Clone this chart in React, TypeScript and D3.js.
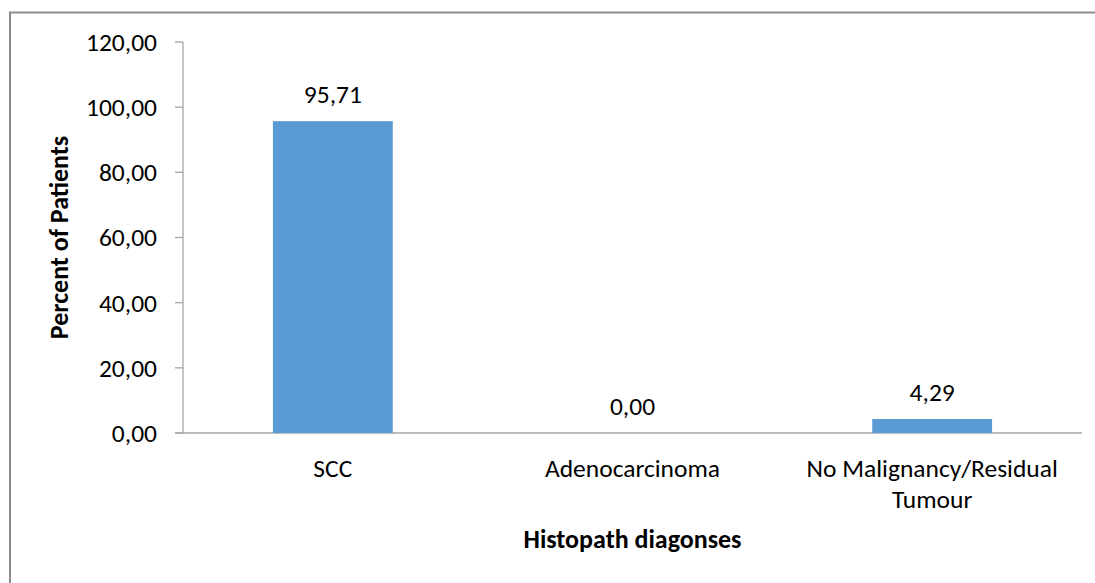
import * as d3 from "d3";
import React, { useEffect, useRef } from "react";

const categories = ["SCC", "Adenocarcinoma", "No Malignancy/Residual Tumour"];
const categoryLines = [["SCC"], ["Adenocarcinoma"], ["No Malignancy/Residual", "Tumour"]];
const percentValues = [95.71, 0.0, 4.29];
const yTicks = [0, 20, 40, 60, 80, 100, 120];
const yTitle = "Percent of Patients";
const xTitle = "Histopath diagonses";

const W = 1095;
const H = 583;
const FONT = "Carlito, Calibri, 'Open Sans', sans-serif";

const fmt = (v: number) => v.toFixed(2).replace(".", ",");

const App = () => {
  const svgRef = useRef<SVGSVGElement>(null);

  useEffect(() => {
    const svg = d3.select(svgRef.current);
    svg.selectAll("*").remove();

    const plot = { left: 183, right: 1082, top: 42, bottom: 433 };

    const x = d3
      .scaleBand()
      .domain(categories)
      .range([plot.left, plot.right])
      .paddingInner(0.6)
      .paddingOuter(0.3);

    const y = d3.scaleLinear().domain([0, 120]).range([plot.bottom, plot.top]);

    // outer chart frame (runs off the right/bottom edge)
    svg
      .append("path")
      .attr("d", `M10,${H + 5} L10,12.5 L${W + 5},12.5`)
      .attr("fill", "none")
      .attr("stroke", "#8c8c8c")
      .attr("stroke-width", 2);

    // y axis
    const yAxis = svg.append("g");
    yAxis
      .append("line")
      .attr("x1", plot.left)
      .attr("x2", plot.left)
      .attr("y1", y(120))
      .attr("y2", y(0))
      .attr("stroke", "#a6a6a6")
      .attr("stroke-width", 1.3);

    yAxis
      .selectAll("line.tick")
      .data(yTicks)
      .enter()
      .append("line")
      .attr("class", "tick")
      .attr("x1", plot.left - 8)
      .attr("x2", plot.left)
      .attr("y1", (d) => y(d))
      .attr("y2", (d) => y(d))
      .attr("stroke", "#a6a6a6")
      .attr("stroke-width", 1.3);

    yAxis
      .selectAll("text")
      .data(yTicks)
      .enter()
      .append("text")
      .attr("x", plot.left - 26)
      .attr("y", (d) => y(d))
      .attr("dy", "0.35em")
      .attr("text-anchor", "end")
      .style("font-family", FONT)
      .style("font-size", "25.5px")
      .style("fill", "#000")
      .text((d) => fmt(d));

    // x axis line
    svg
      .append("line")
      .attr("x1", plot.left - 8)
      .attr("x2", plot.right)
      .attr("y1", y(0))
      .attr("y2", y(0))
      .attr("stroke", "#a6a6a6")
      .attr("stroke-width", 1.3);

    // bars
    svg
      .selectAll("rect.bar")
      .data(percentValues)
      .enter()
      .append("rect")
      .attr("class", "bar")
      .attr("x", (_, i) => x(categories[i]) as number)
      .attr("width", x.bandwidth())
      .attr("y", (d) => y(d))
      .attr("height", (d) => y(0) - y(d))
      .attr("fill", "#5b9bd5");

    // data labels
    svg
      .selectAll("text.value")
      .data(percentValues)
      .enter()
      .append("text")
      .attr("class", "value")
      .attr("x", (_, i) => (x(categories[i]) as number) + x.bandwidth() / 2)
      .attr("y", (d) => y(d) - 18)
      .attr("text-anchor", "middle")
      .style("font-family", FONT)
      .style("font-size", "25.5px")
      .style("fill", "#000")
      .text((d) => fmt(d));

    // category labels
    const cat = svg
      .selectAll("text.cat")
      .data(categoryLines)
      .enter()
      .append("text")
      .attr("class", "cat")
      .attr("text-anchor", "middle")
      .style("font-family", FONT)
      .style("font-size", "25.5px")
      .style("fill", "#000");

    cat.each(function (lines, i) {
      const cx = (x(categories[i]) as number) + x.bandwidth() / 2;
      d3.select(this)
        .selectAll("tspan")
        .data(lines)
        .enter()
        .append("tspan")
        .attr("x", cx)
        .attr("y", (_, j) => plot.bottom + 44 + j * 31)
        .text((t) => t);
    });

    // axis titles
    svg
      .append("text")
      .attr("transform", `translate(68,${(plot.top + plot.bottom) / 2}) rotate(-90)`)
      .attr("text-anchor", "middle")
      .style("font-family", FONT)
      .style("font-size", "26px")
      .style("font-weight", "bold")
      .style("fill", "#000")
      .text(yTitle);

    svg
      .append("text")
      .attr("x", (plot.left + plot.right) / 2)
      .attr("y", 548)
      .attr("text-anchor", "middle")
      .style("font-family", FONT)
      .style("font-size", "26px")
      .style("font-weight", "bold")
      .style("fill", "#000")
      .text(xTitle);
  }, []);

  return (
    <svg
      ref={svgRef}
      width={W}
      height={H}
      style={{ position: "absolute", left: 0, top: 0, background: "#fff", display: "block" }}
    ></svg>
  );
};

export default App;
